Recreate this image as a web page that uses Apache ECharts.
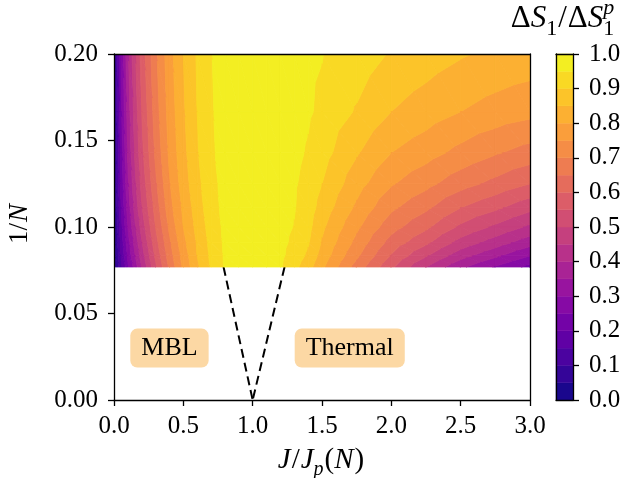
<!DOCTYPE html>
<html>
<head>
<meta charset="utf-8">
<script src="https://cdn.jsdelivr.net/npm/echarts@6/dist/echarts.min.js"></script>
<style>
  html, body { margin: 0; padding: 0; background: #fff; }
  #chart { width: 631px; height: 478px; }
</style>
</head>
<body>
<div id="chart"></div>
<script>
// J / J_p(N) sample points along each row
const jRatio = [0, 0.05, 0.1, 0.15, 0.2, 0.3, 0.4, 0.5, 0.6, 0.7, 0.8, 0.9, 1.0,
                1.1, 1.2, 1.3, 1.4, 1.5, 1.75, 2.0, 2.25, 2.5, 2.75, 3.0];
// system sizes; each row sits at 1/N
const sizes = [5, 6, 7, 8, 9, 10, 11, 12, 13];

// ΔS1 / ΔS1^p for every size, one value per J/J_p sample
const ratioN5  = [0.04, 0.25, 0.39, 0.49, 0.57, 0.69, 0.78, 0.85, 0.905, 0.948, 0.97, 0.985, 0.99,
                  0.987, 0.978, 0.97, 0.96, 0.952, 0.93, 0.895, 0.875, 0.855, 0.84, 0.83];
const ratioN6  = [0.04, 0.235, 0.37, 0.47, 0.55, 0.675, 0.77, 0.843, 0.90, 0.945, 0.969, 0.984, 0.99,
                  0.986, 0.977, 0.968, 0.956, 0.94, 0.895, 0.85, 0.825, 0.80, 0.78, 0.765];
const ratioN7  = [0.04, 0.22, 0.355, 0.455, 0.535, 0.66, 0.76, 0.835, 0.895, 0.942, 0.968, 0.983, 0.99,
                  0.985, 0.975, 0.962, 0.945, 0.92, 0.855, 0.80, 0.77, 0.735, 0.705, 0.68];
const ratioN8  = [0.04, 0.21, 0.34, 0.435, 0.515, 0.64, 0.745, 0.825, 0.885, 0.935, 0.965, 0.982, 0.989,
                  0.984, 0.972, 0.955, 0.935, 0.90, 0.82, 0.755, 0.715, 0.67, 0.635, 0.60];
const ratioN9  = [0.035, 0.195, 0.32, 0.415, 0.495, 0.62, 0.73, 0.81, 0.875, 0.93, 0.963, 0.98, 0.988,
                  0.983, 0.97, 0.953, 0.925, 0.88, 0.79, 0.71, 0.66, 0.60, 0.56, 0.515];
const ratioN10 = [0.035, 0.18, 0.3, 0.39, 0.47, 0.60, 0.71, 0.80, 0.865, 0.922, 0.96, 0.979, 0.987,
                  0.982, 0.965, 0.948, 0.915, 0.86, 0.76, 0.67, 0.61, 0.54, 0.49, 0.44];
const ratioN11 = [0.03, 0.165, 0.28, 0.365, 0.445, 0.58, 0.69, 0.785, 0.855, 0.915, 0.958, 0.978, 0.986,
                  0.981, 0.963, 0.94, 0.905, 0.845, 0.735, 0.63, 0.56, 0.48, 0.425, 0.37];
const ratioN12 = [0.03, 0.15, 0.26, 0.345, 0.425, 0.56, 0.675, 0.77, 0.85, 0.91, 0.956, 0.976, 0.985,
                  0.98, 0.96, 0.93, 0.89, 0.83, 0.71, 0.595, 0.505, 0.42, 0.36, 0.30];
const ratioN13 = [0.025, 0.135, 0.24, 0.32, 0.40, 0.54, 0.66, 0.76, 0.84, 0.905, 0.955, 0.975, 0.985,
                  0.978, 0.955, 0.915, 0.87, 0.81, 0.68, 0.56, 0.45, 0.36, 0.295, 0.235];
const ratioRows = [ratioN5, ratioN6, ratioN7, ratioN8, ratioN9, ratioN10, ratioN11, ratioN12, ratioN13];

// filled-contour level boundaries
const contourLevels = [0, 0.05, 0.1, 0.15, 0.2, 0.25, 0.3, 0.35, 0.4, 0.45, 0.5,
                       0.55, 0.6, 0.65, 0.7, 0.75, 0.8, 0.85, 0.9, 0.95, 1.0];

// dashed phase-boundary guides, in (J/J_p, 1/N)
const boundaryLeft  = [[0.79, 0.0769], [1.0, 0]];
const boundaryRight = [[1.23, 0.0769], [1.0, 0]];

// phase annotations: [J/J_p, 1/N, text]
const phaseLabels = [[0.4, 0.03, 'MBL'], [1.7, 0.03, 'Thermal']];

const FONT = 'Liberation Serif';

// plasma colour map
const plasmaStops = ['#0d0887', '#41049d', '#6a00a8', '#8f0da4', '#b12a90', '#cc4778',
                     '#e16462', '#f2844b', '#fca636', '#fcce25', '#f0f921'];
function hexRgb(h) { return [1, 3, 5].map(i => parseInt(h.substr(i, 2), 16)); }
function plasma(t) {
  const s = Math.max(0, Math.min(1, t)) * 10;
  const i = Math.min(9, Math.floor(s));
  const f = s - i;
  const a = hexRgb(plasmaStops[i]), b = hexRgb(plasmaStops[i + 1]);
  return 'rgb(' + a.map((v, k) => Math.round(v + (b[k] - v) * f)).join(',') + ')';
}
const bandColors = contourLevels.slice(0, -1).map((lo, k) => plasma((lo + contourLevels[k + 1]) / 2));

// clip a polygon (vertices carry x, y, v) to one side of an iso-level
function clipLevel(poly, lvl, keepAbove) {
  const out = [];
  const n = poly.length;
  for (let i = 0; i < n; i++) {
    const a = poly[i], b = poly[(i + 1) % n];
    const fa = keepAbove ? a.v - lvl : lvl - a.v;
    const fb = keepAbove ? b.v - lvl : lvl - b.v;
    const ina = fa >= 0, inb = fb >= 0;
    if (ina) out.push(a);
    if (ina !== inb) {
      const t = fa / (fa - fb);
      out.push({ x: a.x + t * (b.x - a.x), y: a.y + t * (b.y - a.y), v: lvl });
    }
  }
  return out;
}

// one item per grid cell: [x, y, column, row]
const cells = [];
for (let r = 0; r < sizes.length - 1; r++) {
  for (let c = 0; c < jRatio.length - 1; c++) {
    cells.push([jRatio[c], 1 / sizes[r], c, r]);
  }
}

function renderCell(params, api) {
  const c = api.value(2), r = api.value(3);
  const corner = (ci, ri) => {
    const p = api.coord([jRatio[ci], 1 / sizes[ri]]);
    return { x: p[0], y: p[1], v: ratioRows[ri][ci] };
  };
  const p00 = corner(c, r), p10 = corner(c + 1, r), p11 = corner(c + 1, r + 1), p01 = corner(c, r + 1);
  const tris = [[p00, p10, p11], [p00, p11, p01]];
  const children = [];
  tris.forEach(tri => {
    for (let k = 0; k < bandColors.length; k++) {
      const lo = contourLevels[k];
      const hi = k === bandColors.length - 1 ? contourLevels[k + 1] + 1e-6 : contourLevels[k + 1];
      let poly = clipLevel(tri, lo, true);
      if (poly.length < 3) continue;
      poly = clipLevel(poly, hi, false);
      if (poly.length < 3) continue;
      children.push({
        type: 'polygon',
        shape: { points: poly.map(p => [p.x, p.y]) },
        style: { fill: bandColors[k], stroke: bandColors[k], lineWidth: 0.9 }
      });
    }
  });
  return { type: 'group', children };
}

function renderBand(params, api) {
  const k = api.value(0);
  const a = api.coord([0, contourLevels[k]]);
  const b = api.coord([1, contourLevels[k + 1]]);
  return {
    type: 'rect',
    shape: { x: a[0], y: b[1], width: b[0] - a[0], height: a[1] - b[1] },
    style: { fill: bandColors[k], stroke: bandColors[k], lineWidth: 0.5 }
  };
}

// small math-style label builder (italic letters, sub/superscripts)
const measureCtx = document.createElement('canvas').getContext('2d');
function fontStr(size, italic) { return (italic ? 'italic ' : '') + size + 'px "' + FONT + '"'; }
function textWidth(t, size, italic) { measureCtx.font = fontStr(size, italic); return measureCtx.measureText(t).width; }
function mathLabel(pieces, size, x, y, rotation) {
  const small = Math.round(size * 0.7);
  const items = [];
  let cx = 0;
  pieces.forEach(p => {
    if (p.t !== undefined) {
      items.push({ t: p.t, x: cx, dy: 0, size, it: !!p.it });
      cx += textWidth(p.t, size, !!p.it) + (p.gap || 0);
    } else {
      let w = 0;
      if (p.sup) {
        items.push({ t: p.sup, x: cx, dy: -0.42 * size, size: small, it: !!p.supIt });
        w = Math.max(w, textWidth(p.sup, small, !!p.supIt));
      }
      if (p.sub) {
        items.push({ t: p.sub, x: cx, dy: 0.24 * size, size: small, it: !!p.subIt });
        w = Math.max(w, textWidth(p.sub, small, !!p.subIt));
      }
      cx += w + 1;
    }
  });
  const half = cx / 2;
  return {
    type: 'group', x, y, rotation: rotation || 0,
    children: items.map(it => ({
      type: 'text',
      x: it.x - half,
      y: it.dy - 0.34 * it.size,
      style: {
        text: it.t, font: fontStr(it.size, it.it), fill: '#000',
        align: 'left', verticalAlign: 'middle'
      }
    }))
  };
}

const axisLine = { show: true, onZero: false, lineStyle: { color: '#000', width: 1.3 } };
const tickStyle = { show: true, inside: false, length: 6, lineStyle: { color: '#000', width: 1.3 } };
const labelBase = { color: '#000', fontFamily: FONT, fontSize: 25 };

const chart = echarts.init(document.getElementById('chart'), null, { renderer: 'canvas' });
chart.setOption({
  animation: false,
  backgroundColor: '#fff',
  grid: [
    { left: 114, top: 54, width: 416, height: 346 },
    { left: 556, top: 54, width: 17, height: 346 }
  ],
  xAxis: [
    { gridIndex: 0, type: 'value', min: 0, max: 3, interval: 0.5, position: 'bottom', z: 5,
      axisLine, axisTick: tickStyle, splitLine: { show: false },
      axisLabel: Object.assign({ margin: 14, formatter: v => v.toFixed(1) }, labelBase) },
    { gridIndex: 0, type: 'value', min: 0, max: 3, position: 'top', z: 5,
      axisLine, axisTick: { show: false }, axisLabel: { show: false }, splitLine: { show: false } },
    { gridIndex: 1, type: 'value', min: 0, max: 1, position: 'bottom', z: 5,
      axisLine, axisTick: { show: false }, axisLabel: { show: false }, splitLine: { show: false } },
    { gridIndex: 1, type: 'value', min: 0, max: 1, position: 'top', z: 5,
      axisLine, axisTick: { show: false }, axisLabel: { show: false }, splitLine: { show: false } }
  ],
  yAxis: [
    { gridIndex: 0, type: 'value', min: 0, max: 0.2, interval: 0.05, position: 'left', z: 5,
      axisLine, axisTick: tickStyle, splitLine: { show: false },
      axisLabel: Object.assign({ margin: 16, formatter: v => v.toFixed(2) }, labelBase) },
    { gridIndex: 0, type: 'value', min: 0, max: 0.2, position: 'right', z: 5,
      axisLine, axisTick: { show: false }, axisLabel: { show: false }, splitLine: { show: false } },
    { gridIndex: 1, type: 'value', min: 0, max: 1, interval: 0.1, position: 'right', z: 5,
      axisLine, axisTick: tickStyle, splitLine: { show: false },
      axisLabel: Object.assign({ margin: 16, formatter: v => v.toFixed(1) }, labelBase) },
    { gridIndex: 1, type: 'value', min: 0, max: 1, position: 'left', z: 5,
      axisLine, axisTick: { show: false }, axisLabel: { show: false }, splitLine: { show: false } }
  ],
  series: [
    { type: 'line', xAxisIndex: 0, yAxisIndex: 0, data: boundaryLeft, symbol: 'none', z: 1,
      lineStyle: { color: '#000', width: 2, type: [9, 5] } },
    { type: 'line', xAxisIndex: 0, yAxisIndex: 0, data: boundaryRight, symbol: 'none', z: 1,
      lineStyle: { color: '#000', width: 2, type: [9, 5] } },
    { type: 'custom', xAxisIndex: 0, yAxisIndex: 0, data: cells, encode: { x: 0, y: 1 },
      renderItem: renderCell, clip: true, z: 2, silent: true },
    { type: 'custom', xAxisIndex: 2, yAxisIndex: 2, data: bandColors.map((_, k) => [k]),
      encode: { x: -1, y: -1 }, renderItem: renderBand, z: 2, silent: true },
    { type: 'scatter', xAxisIndex: 0, yAxisIndex: 0, data: phaseLabels, symbolSize: 1, z: 3,
      itemStyle: { color: '#fcd8a4', opacity: 1 },
      label: {
        show: true, position: 'inside', formatter: p => p.value[2], opacity: 1,
        fontFamily: FONT, fontSize: 26, color: '#000', lineHeight: 27,
        textBorderWidth: 0, backgroundColor: '#fcd8a4', borderRadius: 7, padding: [6, 11]
      } }
  ],
  graphic: [
    mathLabel([{ t: 'Δ' }, { t: 'S', it: true }, { sub: '1' }, { t: '/', gap: 1 }, { t: 'Δ' }, { t: 'S', it: true },
               { sup: 'p', supIt: true, sub: '1' }], 31, 563, 29),
    mathLabel([{ t: 'J', it: true, gap: 1 }, { t: '/', gap: 1 }, { t: 'J', it: true }, { sub: 'p', subIt: true },
               { t: '(' }, { t: 'N', it: true, gap: 1 }, { t: ')' }], 29, 321, 470),
    mathLabel([{ t: '1/', gap: 1 }, { t: 'N', it: true }], 27, 29, 224, Math.PI / 2)
  ]
});
</script>
</body>
</html>
